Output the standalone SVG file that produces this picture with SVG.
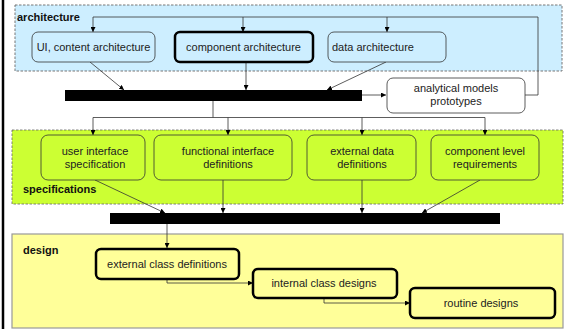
<svg xmlns="http://www.w3.org/2000/svg" width="565" height="329" viewBox="0 0 565 329">
<defs>
<marker id="ah" markerWidth="5" markerHeight="5" refX="5" refY="2.5" orient="auto" markerUnits="userSpaceOnUse">
<path d="M0,0 L5,2.5 L0,5 z" fill="#000"/>
</marker>
</defs>
<style>
text{font-family:"Liberation Sans",Arial,sans-serif;font-size:11px;fill:#222}
.title{font-weight:bold;fill:#111}
.node{stroke:#333;stroke-width:0.8}
.thick{stroke:#000;stroke-width:2.5}
.c{fill:none;stroke:#333;stroke-width:0.8}
.ca{fill:none;stroke:#333;stroke-width:0.8;marker-end:url(#ah)}
.bar{fill:#000}
</style>
<rect x="0" y="0" width="565" height="329" fill="#fff"/>
<line x1="3" y1="0" x2="3" y2="329" stroke="#000" stroke-width="2.5"/>

<g id="architecture">
<rect x="15" y="5" width="547" height="66" fill="#cdeeff" stroke="#777" stroke-width="1" stroke-dasharray="2.5,1.5"/>
<text class="title" x="17" y="21">architecture</text>
</g>
<g id="specifications">
<rect x="12" y="130" width="551" height="74" fill="#ccff33" stroke="#666" stroke-width="0.8" stroke-dasharray="2.5,1.5"/>
<text class="title" x="23" y="193">specifications</text>
</g>
<g id="design">
<rect x="12" y="234" width="551" height="94" fill="#ffff99" stroke="#999" stroke-width="1.2"/>
<text class="title" x="23" y="254">design</text>
</g>

<g id="connectors">
<path class="ca" d="M525,95 H538 V17 H93 V32"/>
<path class="ca" d="M243,17 V32"/>
<path class="ca" d="M387,17 V32"/>
<path class="ca" d="M90,62 L124,90"/>
<path class="ca" d="M246,62 V90"/>
<path class="ca" d="M386,62 L327,90"/>
<path class="ca" d="M362,95 H386"/>
<path class="c" d="M213,101 V117.5 H93"/>
<path class="ca" d="M93,117.5 V135"/>
<path class="ca" d="M213,117.5 H485 V135"/>
<path class="ca" d="M228,117.5 V135"/>
<path class="ca" d="M362,117.5 V135"/>
<path class="ca" d="M95,180 L165,213"/>
<path class="ca" d="M223,180 V213"/>
<path class="ca" d="M362,180 V213"/>
<path class="ca" d="M480,180 L422,213"/>
<path class="ca" d="M167,224 V248" stroke="#777"/>
<path class="ca" d="M167,280 V283 H253"/>
<path class="ca" d="M324,299 V303 H410"/>
</g>

<g id="bar1"><rect class="bar" x="65" y="90" width="297" height="11"/></g>
<g id="bar2"><rect class="bar" x="110" y="213" width="390" height="11"/></g>

<g id="ui-content-architecture">
<rect class="node" x="32" y="32" width="123" height="30" rx="6" fill="#cdeeff"/>
<text x="93.5" y="51" text-anchor="middle">UI, content architecture</text>
</g>
<g id="component-architecture">
<rect class="thick" x="175" y="32" width="138" height="30" rx="5" fill="#cdeeff"/>
<text x="243.5" y="51" text-anchor="middle">component architecture</text>
</g>
<g id="data-architecture">
<rect class="node" x="328" y="32" width="118" height="30" rx="6" fill="#cdeeff"/>
<text x="332" y="51">data architecture</text>
</g>
<g id="analytical-models">
<rect class="node" x="387" y="78" width="138" height="35" rx="6" fill="#fff"/>
<text x="456" y="92" text-anchor="middle">analytical models</text>
<text x="456" y="105" text-anchor="middle">prototypes</text>
</g>

<g id="user-interface-specification">
<rect class="node" x="41" y="135" width="104" height="45" rx="7" fill="#ccff33"/>
<text x="95" y="155" text-anchor="middle">user interface</text>
<text x="95" y="168" text-anchor="middle">specification</text>
</g>
<g id="functional-interface-definitions">
<rect class="node" x="154" y="135" width="138" height="45" rx="7" fill="#ccff33"/>
<text x="228" y="155" text-anchor="middle">functional interface</text>
<text x="228" y="168" text-anchor="middle">definitions</text>
</g>
<g id="external-data-definitions">
<rect class="node" x="307" y="135" width="109" height="45" rx="7" fill="#ccff33"/>
<text x="362" y="155" text-anchor="middle">external data</text>
<text x="362" y="168" text-anchor="middle">definitions</text>
</g>
<g id="component-level-requirements">
<rect class="node" x="431" y="135" width="108" height="45" rx="7" fill="#ccff33"/>
<text x="485" y="155" text-anchor="middle">component level</text>
<text x="485" y="168" text-anchor="middle">requirements</text>
</g>

<g id="external-class-definitions">
<rect class="thick" x="96" y="249" width="143" height="30" rx="5" fill="#ffff99"/>
<text x="167" y="268" text-anchor="middle">external class definitions</text>
</g>
<g id="internal-class-designs">
<rect class="thick" x="253" y="269" width="144" height="29" rx="5" fill="#ffff99"/>
<text x="324" y="287" text-anchor="middle">internal class designs</text>
</g>
<g id="routine-designs">
<rect class="thick" x="410" y="288" width="145" height="30" rx="5" fill="#ffff99"/>
<text x="481" y="307" text-anchor="middle">routine designs</text>
</g>
</svg>
